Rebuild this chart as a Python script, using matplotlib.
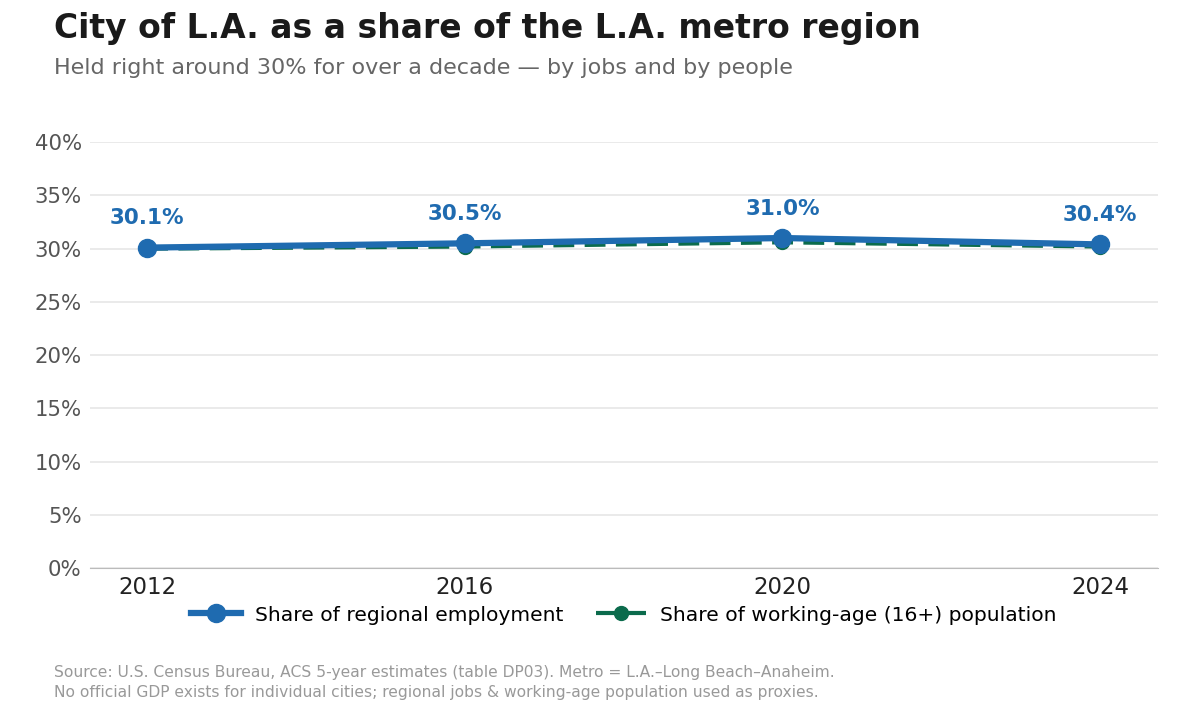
import matplotlib

matplotlib.use("Agg")
import matplotlib.pyplot as plt
from matplotlib.ticker import FuncFormatter

plt.rcParams["font.family"] = ["DejaVu Sans"]

years = [2012, 2016, 2020, 2024]
employment_share = [30.1, 30.5, 31.0, 30.4]
population_share = [30.0, 30.2, 30.6, 30.2]
y_ticks = [0, 5, 10, 15, 20, 25, 30, 35, 40]

BLUE = "#1f6bb0"
GREEN = "#0b6b4c"
GRID = "#e6e6e6"

fig = plt.figure(figsize=(12, 7.11), dpi=100)
ax = fig.add_axes([0.075, 0.201, 0.89, 0.599])

ax.plot(years, population_share, color=GREEN, lw=3, ls=(0, (5, 2.5)),
        marker="o", ms=10, zorder=3, label="Share of working-age (16+) population")
ax.plot(years, employment_share, color=BLUE, lw=4.5, marker="o", ms=13,
        zorder=4, label="Share of regional employment")

for x, v in zip(years, employment_share):
    ax.annotate(f"{v:.1f}%", (x, v), xytext=(0, 14), textcoords="offset points",
                ha="center", va="bottom", color=BLUE, fontsize=15.5,
                fontweight="bold")

ax.set_xlim(2011.28, 2024.73)
ax.set_ylim(0, 40)
ax.set_xticks(years)
ax.set_yticks(y_ticks)
ax.yaxis.set_major_formatter(FuncFormatter(lambda v, _: f"{v:.0f}%"))
ax.tick_params(axis="y", length=0, labelsize=15.3, labelcolor="#555555", pad=6)
ax.tick_params(axis="x", length=0, labelsize=16.5, labelcolor="#222222", pad=6)
ax.grid(axis="y", color=GRID, lw=1.2)
ax.set_axisbelow(True)
for s in ["top", "right", "left"]:
    ax.spines[s].set_visible(False)
ax.spines["bottom"].set_color("#bbbbbb")

handles, labels = ax.get_legend_handles_labels()
ax.legend(handles[::-1], labels[::-1], loc="upper center",
          bbox_to_anchor=(0.5, -0.045), ncol=2, frameon=False, fontsize=14.6,
          handlelength=2.45, handletextpad=0.7, columnspacing=1.6)

fig.text(0.045, 0.96, "City of L.A. as a share of the L.A. metro region",
         fontsize=23.8, fontweight="bold", color="#1a1a1a", va="center")
fig.text(0.045, 0.905, "Held right around 30% for over a decade \u2014 by jobs and by people",
         fontsize=16, color="#666666", va="center")
fig.text(0.045, 0.04,
         "Source: U.S. Census Bureau, ACS 5-year estimates (table DP03). Metro = L.A.\u2013Long Beach\u2013Anaheim.\n"
         "No official GDP exists for individual cities; regional jobs & working-age population used as proxies.",
         fontsize=11.15, color="#999999", va="center", linespacing=1.45)

fig.savefig("out.png", dpi=100)
